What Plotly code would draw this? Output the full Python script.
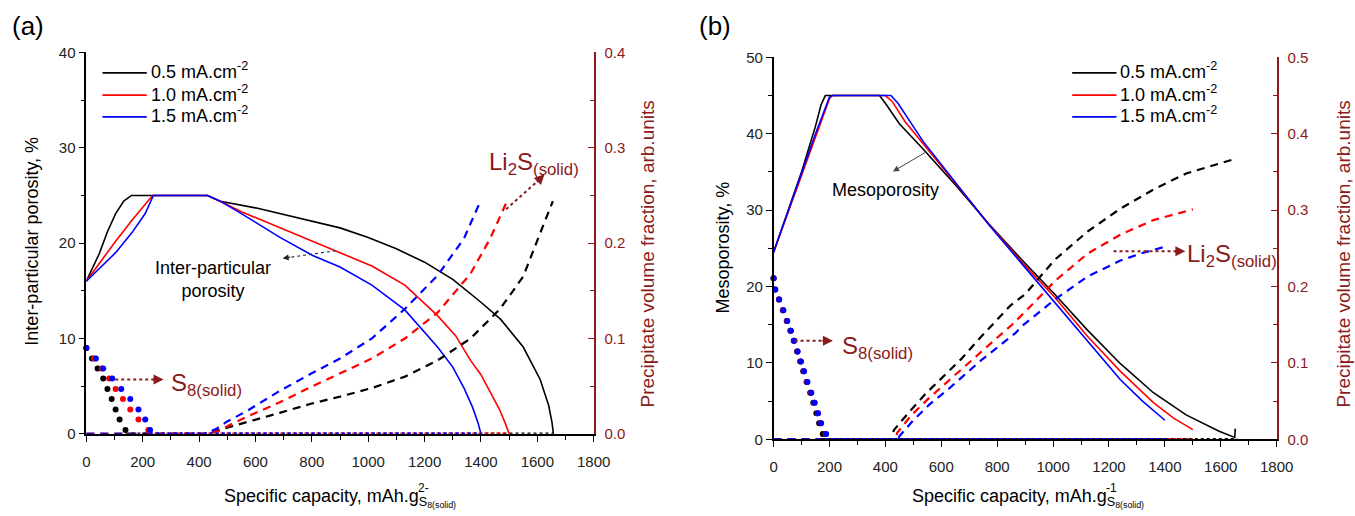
import plotly.graph_objects as go

W, H = 1355, 516


def PX(px):
    return px / W


def PY(py):
    return 1 - py / H


BLACK = '#000000'
RED = '#ff0000'
BLUE = '#0000ff'
MAROON = '#8b1a1a'
FONT = 'Liberation Sans, Arial, sans-serif'

# ---------------- data: panel (a) ----------------
series_names = ['0.5 mA.cm<sup>-2</sup>', '1.0 mA.cm<sup>-2</sup>', '1.5 mA.cm<sup>-2</sup>']
series_colors = [BLACK, RED, BLUE]

# inter-particular porosity, %
a_por_x_05 = [0, 20, 46, 75, 104, 133, 160, 430, 475, 600, 700, 800, 900, 1000, 1100, 1200, 1300, 1400, 1470, 1550, 1610, 1640, 1652, 1657]
a_por_y_05 = [16, 17.2, 18.9, 21.2, 23.1, 24.4, 25, 25, 24.4, 23.7, 23.0, 22.3, 21.6, 20.6, 19.4, 18.0, 16.2, 13.8, 12.0, 9.1, 5.7, 3.0, 1.2, 0]
a_por_x_10 = [0, 104, 162, 220, 235, 430, 475, 550, 687, 803, 900, 1013, 1130, 1246, 1310, 1363, 1400, 1433, 1465, 1485, 1500]
a_por_y_10 = [16, 20.2, 22.4, 24.4, 25, 25, 24.4, 23.3, 21.6, 20.2, 19.0, 17.6, 15.6, 12.4, 10.3, 7.7, 6.2, 4.3, 2.6, 1.2, 0]
a_por_x_15 = [0, 104, 162, 209, 238, 430, 475, 550, 687, 803, 900, 1013, 1130, 1246, 1300, 1340, 1370, 1390, 1400]
a_por_y_15 = [16, 19.0, 21.1, 23.1, 25, 25, 24.4, 23.1, 20.6, 18.7, 17.5, 15.6, 13.0, 9.1, 7.0, 4.8, 2.8, 1.1, 0]

# Li2S precipitate volume fraction (right axis)
a_li2s_x_05 = [0, 430, 470, 570, 686, 803, 900, 1013, 1130, 1246, 1363, 1468, 1550, 1608, 1655]
a_li2s_y_05 = [0, 0, 0.004, 0.012, 0.022, 0.032, 0.039, 0.048, 0.060, 0.077, 0.100, 0.131, 0.165, 0.209, 0.244]
a_li2s_x_10 = [0, 430, 470, 500, 570, 686, 803, 900, 1013, 1130, 1246, 1363, 1433, 1491]
a_li2s_y_10 = [0, 0, 0.003, 0.008, 0.018, 0.033, 0.050, 0.063, 0.079, 0.100, 0.127, 0.168, 0.205, 0.243]
a_li2s_x_15 = [0, 420, 460, 500, 570, 686, 803, 900, 1013, 1130, 1246, 1340, 1395]
a_li2s_y_15 = [0, 0, 0.005, 0.013, 0.024, 0.045, 0.064, 0.079, 0.100, 0.131, 0.166, 0.205, 0.242]

# S8 precipitate volume fraction (right axis), discrete points
a_s8_y = [0.090, 0.079, 0.0685, 0.058, 0.047, 0.0365, 0.0255, 0.015, 0.004]
a_s8_x_05 = [0, 20, 40, 60, 75, 90, 104, 118, 139]
a_s8_x_10 = [0, 28, 55, 81, 104, 130, 156, 185, 220]
a_s8_x_15 = [0, 34, 60, 92, 124, 156, 185, 209, 226]
a_end_x = [1657, 1500, 1400]

# ---------------- data: panel (b) ----------------
b_por_x_05 = [0, 100, 150, 170, 185, 379, 400, 450, 535, 653, 770, 888, 1006, 1123, 1241, 1359, 1476, 1594, 1650, 1652]
b_por_y_05 = [24.5, 35.0, 41.0, 43.8, 45, 45, 44.0, 41.3, 38.0, 33.2, 28.2, 23.5, 19.0, 14.3, 9.9, 6.1, 3.2, 1.05, 0.25, 1.4]
b_por_x_10 = [0, 100, 150, 200, 210, 400, 425, 470, 535, 653, 770, 888, 1006, 1123, 1241, 1359, 1430, 1500]
b_por_y_10 = [24.5, 34.6, 39.8, 44.6, 45, 45, 44.2, 41.6, 38.7, 33.4, 28.2, 23.2, 18.6, 13.5, 8.9, 4.8, 2.8, 1.27]
b_por_x_15 = [0, 100, 150, 200, 210, 420, 445, 535, 653, 770, 888, 1006, 1123, 1241, 1320, 1400]
b_por_y_15 = [24.5, 34.8, 40.0, 44.8, 45, 45, 44.0, 39.0, 33.5, 28.1, 23.0, 17.9, 12.9, 7.8, 5.0, 2.5]

b_li2s_x_05 = [0, 425, 430, 439, 488, 545, 609, 671, 729, 788, 847, 900, 1006, 1123, 1241, 1359, 1476, 1659]
b_li2s_y_05 = [0, 0, 0.012, 0.016, 0.037, 0.060, 0.083, 0.105, 0.129, 0.152, 0.175, 0.190, 0.235, 0.272, 0.302, 0.327, 0.348, 0.368]
b_li2s_x_10 = [0, 435, 443, 494, 553, 614, 676, 735, 800, 853, 900, 1006, 1123, 1241, 1359, 1500]
b_li2s_y_10 = [0, 0, 0.009, 0.032, 0.053, 0.073, 0.093, 0.112, 0.133, 0.150, 0.167, 0.207, 0.243, 0.268, 0.287, 0.301]
b_li2s_x_15 = [0, 445, 450, 500, 559, 623, 682, 741, 806, 865, 888, 1006, 1123, 1241, 1320, 1400]
b_li2s_y_15 = [0, 0, 0.004, 0.025, 0.046, 0.065, 0.084, 0.103, 0.122, 0.139, 0.148, 0.183, 0.213, 0.234, 0.244, 0.252]

b_s8_y = [0.211, 0.196, 0.183, 0.169, 0.155, 0.142, 0.129, 0.115, 0.102, 0.089, 0.075, 0.061, 0.048, 0.034, 0.021, 0.007]
b_s8_x_05 = [0, 5, 19, 33, 47, 60, 72, 84, 95, 106, 118, 131, 142, 153, 163, 176]
b_s8_x_10 = [0, 6, 19, 34, 48, 61, 73, 85, 97, 108, 120, 134, 146, 158, 169, 186]
b_s8_x_15 = [0, 6, 20, 35, 49, 62, 74, 86, 98, 109, 121, 135, 147, 159, 170, 188]
b_end_x = [1659, 1500, 1400]

x_ticks = list(range(0, 1801, 200))

# ---------------- figure ----------------
fig = go.Figure()

A_X = [PX(83.6), PX(599)]
A_Y = [PY(439.3), PY(44.9)]
B_X = [PX(781.7), PX(1292.7)]
B_Y = [PY(445), PY(50)]

DASH = '8px,6px'


def add_panel(xa, ya_left, ya_right, por, li2s, s8x, s8y, ends):
    for i in range(3):
        c = series_colors[i]
        fig.add_trace(go.Scatter(x=por[i][0], y=por[i][1], mode='lines', name=series_names[i],
                                 line=dict(color=c, width=1.6), xaxis=xa, yaxis=ya_left,
                                 showlegend=False, cliponaxis=False, hoverinfo='skip'))
    for i in range(3):
        c = series_colors[i]
        fig.add_trace(go.Scatter(x=li2s[i][0], y=li2s[i][1], mode='lines', showlegend=False,
                                 line=dict(color=c, width=2.2, dash=DASH), xaxis=xa, yaxis=ya_right,
                                 cliponaxis=False, hoverinfo='skip'))
    for i in range(3):
        c = series_colors[i]
        fig.add_trace(go.Scatter(x=s8x[i], y=s8y, mode='markers', showlegend=False,
                                 marker=dict(color=c, size=6), xaxis=xa, yaxis=ya_right,
                                 cliponaxis=False, hoverinfo='skip'))
        fig.add_trace(go.Scatter(x=[s8x[i][-1], ends[i]], y=[0, 0], mode='lines', showlegend=False,
                                 line=dict(color=c, width=2.5, dash='dot'), xaxis=xa, yaxis=ya_right,
                                 cliponaxis=False, hoverinfo='skip'))


add_panel('x', 'y', 'y2',
          [(a_por_x_05, a_por_y_05), (a_por_x_10, a_por_y_10), (a_por_x_15, a_por_y_15)],
          [(a_li2s_x_05, a_li2s_y_05), (a_li2s_x_10, a_li2s_y_10), (a_li2s_x_15, a_li2s_y_15)],
          [a_s8_x_05, a_s8_x_10, a_s8_x_15], a_s8_y, a_end_x)
add_panel('x2', 'y3', 'y4',
          [(b_por_x_05, b_por_y_05), (b_por_x_10, b_por_y_10), (b_por_x_15, b_por_y_15)],
          [(b_li2s_x_05, b_li2s_y_05), (b_li2s_x_10, b_li2s_y_10), (b_li2s_x_15, b_li2s_y_15)],
          [b_s8_x_05, b_s8_x_10, b_s8_x_15], b_s8_y, b_end_x)

common_x = dict(range=[0, 1800], tickvals=x_ticks, ticks='outside', ticklen=6, tickwidth=1.2,
                tickcolor=BLACK, showline=True, linecolor=BLACK, linewidth=1.5, showgrid=False,
                zeroline=False, tickfont=dict(size=15, color='#222'), ticklabelstandoff=7,
                minor=dict(dtick=100, ticks='outside', ticklen=4, tickcolor=BLACK, showgrid=False))
common_yl = dict(ticks='outside', ticklen=6, tickwidth=1.2, tickcolor=BLACK, showline=True,
                 linecolor=BLACK, linewidth=1.5, showgrid=False, zeroline=False,
                 tickfont=dict(size=15, color='#222'))
common_yr = dict(ticks='inside', ticklen=6, tickwidth=1.2, tickcolor=MAROON, showline=True,
                 linecolor=MAROON, linewidth=1.5, showgrid=False, zeroline=False, side='right',
                 tickformat='.1f', tickfont=dict(size=15, color=MAROON), ticklabelstandoff=6)

fig.update_layout(
    width=W, height=H, margin=dict(l=0, r=0, t=0, b=0),
    paper_bgcolor='white', plot_bgcolor='rgba(0,0,0,0)',
    font=dict(family=FONT, size=15, color='black'),
    showlegend=False,
    xaxis=dict(domain=A_X, anchor='y', **common_x),
    yaxis=dict(domain=A_Y, anchor='x', range=[0, 40], dtick=10,
               minor=dict(dtick=5, ticks='outside', ticklen=4, tickcolor=BLACK, showgrid=False), **common_yl),
    yaxis2=dict(overlaying='y', anchor='x', range=[0, 0.4], dtick=0.1,
                minor=dict(dtick=0.05, ticks='inside', ticklen=4, tickcolor=MAROON, showgrid=False), **common_yr),
    xaxis2=dict(domain=B_X, anchor='y3', **common_x),
    yaxis3=dict(domain=B_Y, anchor='x2', range=[0, 50], dtick=10,
                minor=dict(dtick=5, ticks='outside', ticklen=4, tickcolor=BLACK, showgrid=False), **common_yl),
    yaxis4=dict(overlaying='y3', anchor='x2', range=[0, 0.5], dtick=0.1,
                minor=dict(dtick=0.05, ticks='inside', ticklen=4, tickcolor=MAROON, showgrid=False), **common_yr),
)

ann = []
shapes = []


def text(px, py, s, size=18, color=BLACK, angle=0, xanchor='center', yanchor='middle'):
    ann.append(dict(x=PX(px), y=PY(py), xref='paper', yref='paper', text=s, showarrow=False,
                    font=dict(size=size, color=color, family=FONT), textangle=angle,
                    xanchor=xanchor, yanchor=yanchor, borderpad=0))


def arrow(px0, py0, px1, py1, color, width=1.2, head=2, size=1.0):
    ann.append(dict(x=PX(px1), y=PY(py1), xref='paper', yref='paper', ax=px0 - px1, ay=py0 - py1,
                    axref='pixel', ayref='pixel', text='', showarrow=True, arrowhead=head,
                    arrowsize=size, arrowwidth=width, arrowcolor=color))


def seg(px0, py0, px1, py1, color, dash='dot', width=2):
    shapes.append(dict(type='line', xref='paper', yref='paper', x0=PX(px0), y0=PY(py0), x1=PX(px1),
                       y1=PY(py1), line=dict(color=color, width=width, dash=dash)))


# legends (line sample + label) for both panels
legend_rows = [66, 89, 111.5]
for lx in (100, 1085):
    for i in range(3):
        seg(lx, legend_rows[i], lx + 45, legend_rows[i], series_colors[i], dash='solid', width=1.8)
        text(lx + 48, legend_rows[i] - 2, series_names[i], size=18, xanchor='left')

# panel labels
text(24, 18, '(a)', size=26)
text(722, 18, '(b)', size=26)

# axis titles panel (a)
text(29, 240, 'Inter-particular porosity, %', size=18, angle=-90)
text(654, 253, 'Precipitate volume fraction, arb.units', size=19, color=MAROON, angle=-90)
text(222, 506, 'Specific capacity, mAh.g<sub>S<sub>8(solid)</sub></sub>', size=18, xanchor='left')
text(419, 495, '2-', size=12, xanchor='left')
# axis titles panel (b)
text(730, 247, 'Mesoporosity, %', size=18, angle=-90)
text(1361, 253, 'Precipitate volume fraction, arb.units', size=19, color=MAROON, angle=-90)
text(921, 506, 'Specific capacity, mAh.g<sub>S<sub>8(solid)</sub></sub>', size=18, xanchor='left')
text(1118, 495, '-1', size=12, xanchor='left')

# panel (a) annotations
text(152, 280, 'Inter-particular<br>porosity', size=18, xanchor='left')
seg(337, 250, 292, 256.5, '#333', dash='3px,3px', width=1.2)
arrow(292, 256.5, 283, 257.7, '#222', width=1.2, head=2)
text(169, 388, 'S<sub>8(solid)</sub>', size=24, color=MAROON, xanchor='left')
seg(113, 383, 152, 383, MAROON)
arrow(150, 383, 162, 383, MAROON, width=2, head=2, size=1)
text(538, 160, 'Li<sub>2</sub>S<sub>(solid)</sub>', size=24, color=MAROON)
seg(510, 207, 542, 178, MAROON)
arrow(540, 180, 549, 171, MAROON, width=2, head=2, size=1)

# panel (b) annotations
text(895, 187, 'Mesoporosity', size=18)
arrow(937, 148, 903, 168, '#444', width=1, head=2, size=1.2)
text(850, 350, 'S<sub>8(solid)</sub>', size=24, color=MAROON, xanchor='left')
seg(803, 343, 832, 343, MAROON)
arrow(830, 343, 842, 343, MAROON, width=2, head=2, size=1)
text(1201, 255, 'Li<sub>2</sub>S<sub>(solid)</sub>', size=24, color=MAROON, xanchor='left')
seg(1127, 250.5, 1190, 250.5, MAROON)
arrow(1188, 250.5, 1200, 250.5, MAROON, width=2, head=2, size=1)

fig.update_layout(annotations=ann, shapes=shapes)

fig.write_html("out.html", config={'displayModeBar': False},
               post_script="document.body.style.margin='0';")
